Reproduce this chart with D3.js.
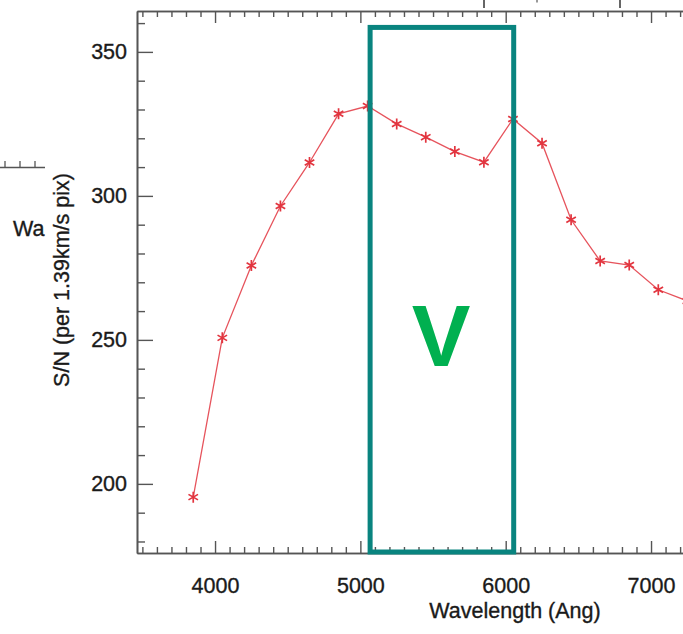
<!DOCTYPE html>
<html>
<head>
<meta charset="utf-8">
<script src="https://cdn.jsdelivr.net/npm/d3@7"></script>
<style>
html,body{margin:0;padding:0;background:#fff;}
svg{display:block;}
text{font-family:"Liberation Sans", Arial, Helvetica, sans-serif;}
</style>
</head>
<body>
<svg id="chart" width="683" height="634"></svg>
<script>
// ---- data ----
const wavelengths = [3850, 4050, 4250, 4450, 4650, 4850, 5050, 5250, 5450, 5650, 5850, 6050, 6250, 6450, 6650, 6850, 7050, 7250];
const snValues    = [195.4, 250.7, 275.8, 296.5, 311.6, 328.5, 331.2, 325.0, 320.4, 315.4, 311.7, 326.7, 318.3, 291.7, 277.4, 276.0, 267.4, 263.5];
const xMajorTicks = [4000, 5000, 6000, 7000];
const yMajorTicks = [200, 250, 300, 350];
const xLabel = "Wavelength (Ang)";
const yLabel = "S/N (per 1.39km/s pix)";
const bandLabel = "V";
const bandRange = [5067, 6055];     // wavelength extent of the highlighted box
const bandTop = 358.5;              // S/N value of the box top

(function () {
const svg = d3.select("#chart");
const W = 683, H = 634;
const pLeft = 137, pTop = 11, pBottom = 553;

const x = d3.scaleLinear().domain([3463, 7300]).range([pLeft, pLeft + (7300 - 3463) * 0.14533]);
const y = d3.scaleLinear().domain([176, 364.2]).range([pBottom, pTop]);

const axisColor = "#555";
const textColor = "#1a1a1a";
const fontSize = 21.5;

const xMinor = d3.range(3500, 7301, 100).filter(v => !xMajorTicks.includes(v));
const yMinor = d3.range(180, 364, 10).filter(v => !yMajorTicks.includes(v));

function styleText(sel) {
  sel.attr("fill", textColor)
     .attr("stroke", textColor).attr("stroke-width", 0.35)
     .style("font-size", fontSize + "px")
     .style("font-family", '"Liberation Sans", Arial, sans-serif');
}
function styleAxis(g) {
  g.select(".domain").attr("stroke", axisColor).attr("stroke-width", 1.6);
  g.selectAll(".tick line").attr("stroke", axisColor).attr("stroke-width", 1.4);
  g.selectAll("text").call(styleText);
}

// bottom axis
svg.append("g").attr("transform", `translate(0,${pBottom})`)
  .call(d3.axisBottom(x).tickValues(xMajorTicks).tickSize(-12).tickPadding(25).tickSizeOuter(0).tickFormat(d3.format("d")))
  .call(styleAxis);
svg.append("g").attr("transform", `translate(0,${pBottom})`)
  .call(d3.axisBottom(x).tickValues(xMinor).tickSize(-6).tickSizeOuter(0).tickFormat(""))
  .call(styleAxis);

// top axis
svg.append("g").attr("transform", `translate(0,${pTop})`)
  .call(d3.axisTop(x).tickValues(xMajorTicks).tickSize(-12).tickSizeOuter(0).tickFormat(""))
  .call(styleAxis);
svg.append("g").attr("transform", `translate(0,${pTop})`)
  .call(d3.axisTop(x).tickValues(xMinor).tickSize(-6).tickSizeOuter(0).tickFormat(""))
  .call(styleAxis);

// left axis
svg.append("g").attr("transform", `translate(${pLeft},0)`)
  .call(d3.axisLeft(y).tickValues(yMajorTicks).tickSize(-16).tickPadding(10).tickSizeOuter(0).tickFormat(d3.format("d")))
  .call(styleAxis);
svg.append("g").attr("transform", `translate(${pLeft},0)`)
  .call(d3.axisLeft(y).tickValues(yMinor).tickSize(-8).tickSizeOuter(0).tickFormat(""))
  .call(styleAxis);

// axis titles
svg.append("text")
  .attr("x", 515).attr("y", 618)
  .attr("text-anchor", "middle")
  .call(styleText)
  .text(xLabel);

svg.append("text")
  .attr("transform", `translate(69,280) rotate(-90)`)
  .attr("text-anchor", "middle")
  .call(styleText)
  .text(yLabel);

// remnants of neighbouring panels
svg.append("line").attr("x1", 0).attr("x2", 45).attr("y1", 167.5).attr("y2", 167.5)
  .attr("stroke", axisColor).attr("stroke-width", 1.5);
[5, 20, 35].forEach(px => svg.append("line").attr("x1", px).attr("x2", px).attr("y1", 167.5).attr("y2", 161)
  .attr("stroke", axisColor).attr("stroke-width", 1.3));
svg.append("text").attr("x", 13).attr("y", 236).call(styleText).text("Wa");
[484, 620].forEach(px => svg.append("line").attr("x1", px).attr("x2", px).attr("y1", 0).attr("y2", 8)
  .attr("stroke", "#333").attr("stroke-width", 1.5));
svg.append("line").attr("x1", 537).attr("x2", 537).attr("y1", 0).attr("y2", 2.5)
  .attr("stroke", "#555").attr("stroke-width", 1.2);

// clip for plot
svg.append("clipPath").attr("id", "plotClip").append("rect")
  .attr("x", pLeft).attr("y", pTop).attr("width", W - pLeft).attr("height", pBottom - pTop);

const data = wavelengths.map((w, i) => ({w, v: snValues[i]}));
const red = "#e2353f";

const plot = svg.append("g").attr("clip-path", "url(#plotClip)");
plot.append("path")
  .datum(data)
  .attr("fill", "none")
  .attr("stroke", red)
  .attr("stroke-width", 1.3)
  .attr("stroke-opacity", 0.85)
  .attr("d", d3.line().x(d => x(d.w)).y(d => y(d.v)));

const sym = d3.symbol().type(d3.symbolAsterisk).size(85);
plot.selectAll("path.pt").data(data).enter().append("path")
  .attr("class", "pt")
  .attr("transform", d => `translate(${x(d.w)},${y(d.v)})`)
  .attr("d", sym)
  .attr("fill", "none")
  .attr("stroke", red)
  .attr("stroke-width", 1.7);

// highlighted band box
svg.append("rect")
  .attr("x", x(bandRange[0]))
  .attr("y", y(bandTop))
  .attr("width", x(bandRange[1]) - x(bandRange[0]))
  .attr("height", y(176) - y(bandTop) - 1)
  .attr("fill", "none")
  .attr("stroke", "#09847f")
  .attr("stroke-width", 5);

svg.append("text")
  .attr("x", 441).attr("y", 366)
  .attr("text-anchor", "middle")
  .attr("fill", "#00b050")
  .style("font-size", "88px")
  .style("font-weight", "bold")
  .text(bandLabel);
})();
</script>
</body>
</html>
